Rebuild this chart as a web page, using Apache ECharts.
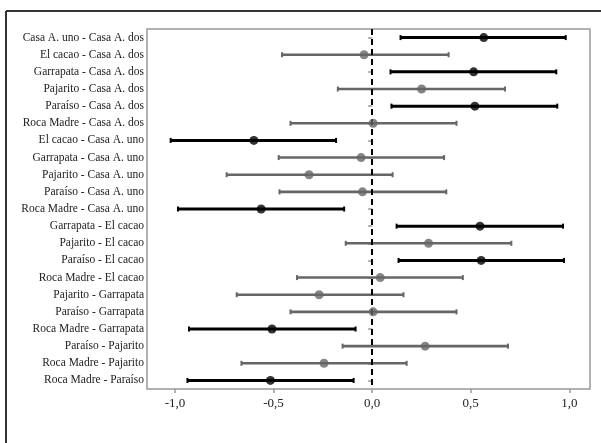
<!DOCTYPE html>
<html>
<head>
<meta charset="utf-8">
<script src="https://cdn.jsdelivr.net/npm/echarts@6/dist/echarts.min.js"></script>
<style>
  html, body { margin: 0; padding: 0; background: #fff; }
  #chart { width: 601px; height: 443px; }
</style>
</head>
<body>
<div id="chart"></div>
<script>
// Pairwise comparisons: difference of means with confidence interval
var comparisons = [
  'Casa A. uno - Casa A. dos',
  'El cacao - Casa A. dos',
  'Garrapata - Casa A. dos',
  'Pajarito - Casa A. dos',
  'Paraíso - Casa A. dos',
  'Roca Madre - Casa A. dos',
  'El cacao - Casa A. uno',
  'Garrapata - Casa A. uno',
  'Pajarito - Casa A. uno',
  'Paraíso - Casa A. uno',
  'Roca Madre - Casa A. uno',
  'Garrapata - El cacao',
  'Pajarito - El cacao',
  'Paraíso - El cacao',
  'Roca Madre - El cacao',
  'Pajarito - Garrapata',
  'Paraíso - Garrapata',
  'Roca Madre - Garrapata',
  'Paraíso - Pajarito',
  'Roca Madre - Pajarito',
  'Roca Madre - Paraíso'
];
var diffs  = [0.566, -0.041, 0.515, 0.251, 0.521, 0.005, -0.600, -0.056, -0.320, -0.049, -0.563,
              0.547, 0.286, 0.553, 0.041, -0.269, 0.005, -0.508, 0.269, -0.244, -0.516];
var lowers = [0.144, -0.457, 0.093, -0.174, 0.098, -0.414, -1.022, -0.474, -0.738, -0.470, -0.985,
              0.124, -0.134, 0.134, -0.381, -0.687, -0.414, -0.929, -0.150, -0.663, -0.937];
var uppers = [0.982, 0.388, 0.934, 0.674, 0.939, 0.428, -0.183, 0.365, 0.104, 0.376, -0.142,
              0.968, 0.706, 0.973, 0.460, 0.159, 0.428, -0.084, 0.689, 0.175, -0.094];
var significant = [1, 0, 1, 0, 1, 0, 1, 0, 0, 0, 1, 1, 0, 1, 0, 0, 0, 1, 0, 0, 1];
var xTicks = [-1, -0.5, 0, 0.5, 1];

var SIG_COLOR = '#000000';
var NS_COLOR = '#666666';
var FONT = 'Liberation Serif';

var chart = echarts.init(document.getElementById('chart'), null, { renderer: 'canvas' });

var intervalData = comparisons.map(function (c, i) {
  return [i, lowers[i], uppers[i], significant[i]];
});
var pointData = comparisons.map(function (c, i) {
  return {
    value: [diffs[i], i],
    itemStyle: { color: significant[i] ? SIG_COLOR : NS_COLOR }
  };
});

function renderInterval(params, api) {
  var idx = api.value(0);
  var lo = api.coord([api.value(1), idx]);
  var hi = api.coord([api.value(2), idx]);
  var sig = api.value(3) === 1;
  var color = sig ? SIG_COLOR : NS_COLOR;
  var w = sig ? 3 : 2.6;
  var cap = 2.5;
  var style = { stroke: color, lineWidth: w, fill: null };
  return {
    type: 'group',
    children: [
      { type: 'line', shape: { x1: lo[0], y1: lo[1], x2: hi[0], y2: hi[1] }, style: style },
      { type: 'line', shape: { x1: lo[0], y1: lo[1] - cap, x2: lo[0], y2: lo[1] + cap },
        style: { stroke: color, lineWidth: 2, fill: null } },
      { type: 'line', shape: { x1: hi[0], y1: hi[1] - cap, x2: hi[0], y2: hi[1] + cap },
        style: { stroke: color, lineWidth: 2, fill: null } }
    ]
  };
}

function fmt(v) {
  return v.toFixed(1).replace('.', ',');
}

var option = {
  animation: false,
  backgroundColor: '#ffffff',
  grid: {
    left: 147, right: 11, top: 29, bottom: 54,
    show: true, borderColor: '#999999', borderWidth: 1.5, backgroundColor: '#ffffff'
  },
  xAxis: {
    type: 'value',
    min: -1.142,
    max: 1.105,
    splitLine: { show: false },
    axisLine: { show: false },
    axisTick: { show: true, length: 4, customValues: xTicks, lineStyle: { color: '#999999', width: 1.5 } },
    axisLabel: {
      customValues: xTicks,
      formatter: fmt,
      color: '#222222',
      fontFamily: FONT,
      fontSize: 13,
      margin: 8
    }
  },
  yAxis: {
    type: 'category',
    data: comparisons,
    inverse: true,
    axisLine: { show: false },
    axisTick: { show: true, length: 4, alignWithLabel: true, lineStyle: { color: '#999999', width: 1.5 } },
    axisLabel: {
      color: '#222222',
      fontFamily: FONT,
      fontSize: 11.5,
      margin: 3
    },
    splitLine: { show: false }
  },
  series: [
    {
      type: 'custom',
      renderItem: renderInterval,
      encode: { x: [1, 2], y: 0 },
      data: intervalData,
      z: 2,
      markLine: {
        silent: true,
        symbol: 'none',
        label: { show: false },
        lineStyle: { color: '#000000', width: 2, type: [6, 4] },
        data: [{ xAxis: 0 }],
        z: 3
      }
    },
    {
      type: 'scatter',
      data: pointData,
      symbol: 'circle',
      symbolSize: 9,
      z: 4
    }
  ],
  graphic: [
    { type: 'line', shape: { x1: 6, y1: 11, x2: 601, y2: 11 }, style: { stroke: '#333333', lineWidth: 2 } },
    { type: 'line', shape: { x1: 6, y1: 11, x2: 6, y2: 443 }, style: { stroke: '#333333', lineWidth: 2 } }
  ]
};

chart.setOption(option);
</script>
</body>
</html>
